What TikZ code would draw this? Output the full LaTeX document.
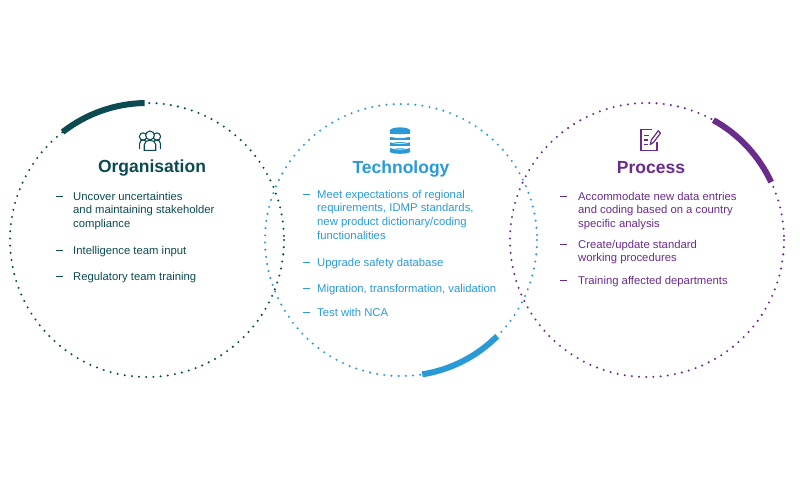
\documentclass[tikz,border=0pt]{standalone}
\usepackage{fontspec}
\setmainfont{Liberation Sans}
\usetikzlibrary{calc}
\begin{document}
\begin{tikzpicture}[x=1pt,y=-1pt,
  dots/.style={line width=2.3pt,line cap=round,dash pattern=on 0pt off 7.2pt},
  thick arc/.style={line width=6pt},
  item/.style={anchor=north west,align=left,font=\fontsize{11.3}{13.6}\selectfont,inner sep=0pt},
  dashmark/.style={line width=0.8pt},
  ttl/.style={font=\fontsize{17.5}{20}\selectfont\bfseries}]
\definecolor{org}{HTML}{0B4A50}
\definecolor{tec}{HTML}{2A9AD6}
\definecolor{pro}{HTML}{6A2C8A}
\useasboundingbox (0,0) rectangle (800,480);
% circles
\coordinate (co) at (147,240);
\coordinate (ct) at (401,240);
\coordinate (cp) at (647,240);
\draw[org,dots] (co) circle (137);
\draw[tec,dots] (ct) circle (136);
\draw[pro,dots] (cp) circle (137);
% thick arcs
\draw[org,thick arc] ($(co)+(-128:137)$) arc[start angle=-128,end angle=-91,radius=137];
\draw[tec,thick arc] ($(ct)+(81:136)$) arc[start angle=81,end angle=45,radius=136];
\draw[pro,thick arc] ($(cp)+(-61:137)$) arc[start angle=-61,end angle=-25,radius=137];
% icons
\begin{scope}[org,line width=1.1pt,shift={(150,140)},scale=1.15]
 \draw (-9,8) -- (-9,3) .. controls (-9,-1) and (-3,-1) .. (-3,3);
 \draw (-6,-3) circle (3.2);
 \draw (6,-3) circle (3.2);
 \draw (9,8) -- (9,3) .. controls (9,-1) and (3,-1) .. (3,3);
 \draw[fill=white] (-5,9) -- (-5,4) .. controls (-5,-1) and (5,-1) .. (5,4) -- (5,9) -- cycle;
 \draw[fill=white] (0,-4) circle (3.8);
\end{scope}
\begin{scope}[tec,shift={(400,140)},scale=1.15]
 \foreach \yy in {-8,-3,2,7}{\fill (-9,\yy) rectangle (9,\yy+3);}
 \fill (0,-8) ellipse (9 and 3);
 \fill (0,10) ellipse (9 and 2);
 \draw[white,line width=0.8pt] (-9,-3.5) .. controls (-3,-1.5) and (3,-1.5) .. (9,-3.5);
 \draw[white,line width=0.8pt] (-9,1.5) .. controls (-3,3.5) and (3,3.5) .. (9,1.5);
 \draw[white,line width=0.8pt] (-9,6.5) .. controls (-3,8.5) and (3,8.5) .. (9,6.5);
\end{scope}
\begin{scope}[pro,line width=1.2pt,shift={(649,140)},scale=1.15]
 \draw (3,-9) -- (-7,-9) -- (-7,9) -- (7,9) -- (7,2);
 \draw (-4,-4) -- (0,-4) (-4,0) -- (-1,0) (-4,4) -- (-1,4);
 \draw[line join=round] (1,4) -- (2,0) -- (8,-8) -- (10,-6) -- (4,2) -- cycle;
\end{scope}
% titles
\node[ttl,org] (to) at (152,168) {Organisation};
\node[ttl,tec] (tt) at (401,169) {Technology};
\node[ttl,pro] (tp) at (651,168) {Process};
\begin{scope}[org]
\foreach \yy in {196,250,276}{\draw[dashmark] (56,\yy) -- (63,\yy);}
\node[item] (o1) at (73,192) {Uncover uncertainties\\and maintaining stakeholder\\compliance};
\node[item] (o2) at (73,246) {Intelligence team input};
\node[item] (o3) at (73,272) {Regulatory team training};
\end{scope}
\begin{scope}[tec]
\foreach \yy in {194,262,288,312}{\draw[dashmark] (303,\yy) -- (310,\yy);}
\node[item] (t1) at (317,190) {Meet expectations of regional\\requirements, IDMP standards,\\new product dictionary/coding\\functionalities};
\node[item] (t2) at (317,258) {Upgrade safety database};
\node[item] (t3) at (317,284) {Migration, transformation, validation};
\node[item] (t4) at (317,308) {Test with NCA};
\end{scope}
\begin{scope}[pro]
\foreach \yy in {196,244,280}{\draw[dashmark] (560,\yy) -- (567,\yy);}
\node[item] (p1) at (578,192) {Accommodate new data entries\\and coding based on a country\\specific analysis};
\node[item] (p2) at (578,240) {Create/update standard\\working procedures};
\node[item] (p3) at (578,276) {Training affected departments};
\end{scope}
\end{tikzpicture}
\end{document}
